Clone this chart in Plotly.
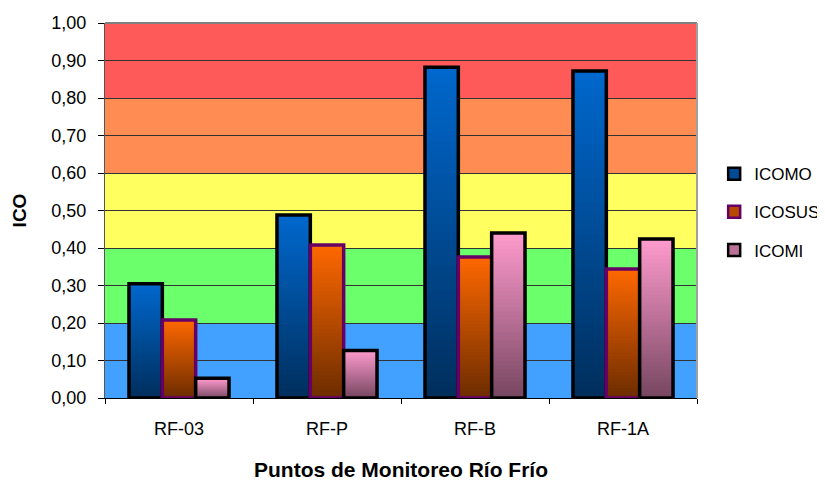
import numpy as np
import plotly.graph_objects as go

categories = ["RF-03", "RF-P", "RF-B", "RF-1A"]
icomo = [0.305, 0.488, 0.882, 0.872]
icosus = [0.208, 0.408, 0.376, 0.344]
icomi = [0.053, 0.127, 0.440, 0.424]

band_edges = [0.0, 0.2, 0.4, 0.6, 0.8, 1.0]
band_colors = ["#42A0FF", "#6CFF6C", "#FFFF5F", "#FF8C52", "#FF5A5A"]

series = [
    ("ICOMO", icomo, (0, 104, 206), (0, 46, 92), "#000000"),
    ("ICOSUS", icosus, (255, 104, 0), (108, 44, 0), "#660066"),
    ("ICOMI", icomi, (255, 155, 206), (118, 70, 96), "#000000"),
]

FONT = "Liberation Sans, Arial, sans-serif"
N = 40
fig = go.Figure()

for si, (name, vals, top, bot, lc) in enumerate(series):
    vals = np.array(vals)
    for k in range(N):
        t = (k + 0.5) / N
        c = tuple(int(round(bot[j] + (top[j] - bot[j]) * t)) for j in range(3))
        h = vals / N * (1.8 if k < N - 1 else 1.0)
        fig.add_trace(go.Bar(
            x=categories, y=h, base=vals * k / N,
            offsetgroup=name, marker=dict(color="rgb(%d,%d,%d)" % c, line=dict(width=0)),
            showlegend=False, hoverinfo="skip"))
    fig.add_trace(go.Bar(
        x=categories, y=vals, offsetgroup=name, name=name,
        marker=dict(color="rgba(0,0,0,0)", line=dict(color=lc, width=3.5)),
        showlegend=False))
    mid = tuple(int(round((top[j] + bot[j]) / 2)) for j in range(3))
    fig.add_trace(go.Bar(
        x=categories, y=[None] * len(categories), offsetgroup=name, name=name,
        legendgroup=name,
        marker=dict(color="rgb(%d,%d,%d)" % mid, line=dict(color=lc, width=2.5)),
        showlegend=True))

shapes = []
for i, col in enumerate(band_colors):
    shapes.append(dict(type="rect", xref="paper", yref="y", x0=0, x1=1,
                       y0=band_edges[i], y1=band_edges[i + 1],
                       fillcolor=col, line=dict(width=0), layer="below"))

fig.update_layout(
    width=825, height=480,
    margin=dict(l=97, r=136, t=15, b=90, autoexpand=False),
    paper_bgcolor="white", plot_bgcolor="white",
    barmode="group", bargap=0.324, bargroupgap=0,
    separators=", ",
    shapes=shapes,
    font=dict(family=FONT, size=17, color="black"),
    showlegend=True,
    legend=dict(x=1.029, y=0.645, xanchor="left", yanchor="top",
                font=dict(size=17), tracegroupgap=13, bgcolor="rgba(0,0,0,0)"),
    xaxis=dict(showline=True, linecolor="#000000", linewidth=1, mirror=False,
               ticks="outside", ticklen=5, tickcolor="#000000", tickson="boundaries",
               showgrid=False, tickfont=dict(size=18), ticklabelstandoff=14,
               title=dict(text="<b>Puntos de Monitoreo Río Frío</b>", font=dict(size=21), standoff=24)),
    yaxis=dict(range=[0, 1.0], dtick=0.1, tickformat=".2f",
               showline=True, linecolor="#555555", linewidth=1, mirror=False,
               ticks="outside", ticklen=6, tickcolor="#000000",
               showgrid=True, gridcolor="#333333", gridwidth=1, zeroline=False,
               tickfont=dict(size=18), ticklabelstandoff=8,
               title=dict(text="<b>ICO</b>", font=dict(size=19), standoff=19)),
)

fig.add_shape(type="line", xref="paper", yref="paper", x0=0, x1=1, y0=1, y1=1,
              line=dict(color="#808080", width=2))
fig.add_shape(type="line", xref="paper", yref="paper", x0=1, x1=1, y0=0, y1=1,
              line=dict(color="#A0A0A0", width=2))

fig.write_html("out.html")
